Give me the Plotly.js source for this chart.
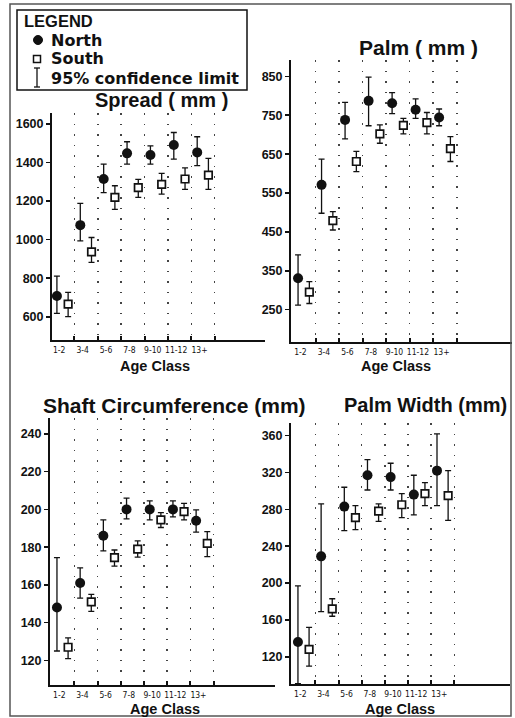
<!DOCTYPE html>
<html>
<head>
<meta charset="utf-8">
<script src="https://cdn.plot.ly/plotly-3.0.1.min.js"></script>
<style>
html,body{margin:0;padding:0;background:#fff;}
#chart{width:515px;height:718px;}
</style>
</head>
<body>
<div id="chart"></div>
<script>
// ---------- data ----------
const categories = ['1-2','3-4','5-6','7-8','9-10','11-12','13+'];

const spreadNorth   = [708, 1075, 1314, 1447, 1438, 1490, 1452];
const spreadNorthHi = [811, 1188, 1391, 1507, 1486, 1555, 1533];
const spreadNorthLo = [618,  994, 1243, 1391, 1391, 1417, 1383];
const spreadSouth   = [666,  937, 1219, 1269, 1286, 1314, 1334];
const spreadSouthHi = [727, 1011, 1279, 1312, 1343, 1372, 1421];
const spreadSouthLo = [601,  882, 1157, 1219, 1236, 1260, 1260];

const palmNorth   = [331, 571, 738, 787, 781, 764, 744];
const palmNorthHi = [391, 637, 783, 848, 808, 792, 766];
const palmNorthLo = [262, 498, 689, 723, 754, 742, 723];
const palmSouth   = [295, 479, 631, 702, 724, 731, 664];
const palmSouthHi = [322, 502, 657, 725, 742, 757, 695];
const palmSouthLo = [266, 455, 605, 678, 702, 702, 631];

const shaftNorth   = [148, 161, 186, 200, 200, 200, 194];
const shaftNorthHi = [174.5, 169, 194.5, 206, 204.5, 204.5, 199.7];
const shaftNorthLo = [125, 153, 178, 195, 194.4, 196, 188];
const shaftSouth   = [127, 151, 174.5, 179, 194.4, 198.8, 182];
const shaftSouthHi = [132, 155, 178.5, 183.3, 198.3, 203.2, 188.2];
const shaftSouthLo = [121, 146, 170, 174.7, 190.4, 194.4, 175];

const pwNorth   = [136, 229, 283, 317, 315, 296, 322];
const pwNorthHi = [197, 286, 304, 334, 330, 317, 362];
const pwNorthLo = [91, 169, 257, 301, 301, 274, 284];
const pwSouth   = [128, 172, 271, 278, 285, 297, 295];
const pwSouthHi = [152, 183, 284, 286, 297, 309, 322];
const pwSouthLo = [110, 164, 258, 267, 271, 284, 268];

const panelTitles = ['Spread ( mm )', 'Palm ( mm )', 'Shaft Circumference (mm)', 'Palm Width (mm)'];
const xTitle = 'Age Class';
const legendItems = ['North', 'South', '95% confidence limit'];

// ---------- helpers ----------
const W = 515, H = 718;
const px = x => x / W;
const py = y => 1 - y / H;
const idx = categories.map((c, i) => i);
const southOffset = 0.48;

function errObj(v, hi, lo) {
  return {
    type: 'data', symmetric: false,
    array: hi.map((h, i) => h - v[i]),
    arrayminus: lo.map((l, i) => v[i] - l),
    color: '#111', thickness: 1.3, width: 3
  };
}
function pair(n, nHi, nLo, s, sHi, sLo, k) {
  const xa = k === 1 ? 'x' : 'x' + k, ya = k === 1 ? 'y' : 'y' + k;
  return [
    {type: 'scatter', mode: 'markers', x: idx, y: n, xaxis: xa, yaxis: ya,
     error_y: errObj(n, nHi, nLo),
     marker: {symbol: 'circle', size: 10, color: '#111'}, showlegend: false, cliponaxis: false},
    {type: 'scatter', mode: 'markers', x: idx.map(i => i + southOffset), y: s, xaxis: xa, yaxis: ya,
     error_y: errObj(s, sHi, sLo),
     marker: {symbol: 'square', size: 7.5, color: '#fff', line: {color: '#111', width: 1.7}}, showlegend: false, cliponaxis: false}
  ];
}

const data = [].concat(
  pair(spreadNorth, spreadNorthHi, spreadNorthLo, spreadSouth, spreadSouthHi, spreadSouthLo, 1),
  pair(palmNorth, palmNorthHi, palmNorthLo, palmSouth, palmSouthHi, palmSouthLo, 2),
  pair(shaftNorth, shaftNorthHi, shaftNorthLo, shaftSouth, shaftSouthHi, shaftSouthLo, 3),
  pair(pwNorth, pwNorthHi, pwNorthLo, pwSouth, pwSouthHi, pwSouthLo, 4)
);

const tickFontX = {family: 'Liberation Sans Narrow, DejaVu Sans Condensed, sans-serif', size: 8.5, color: '#111'};
const tickFontY = {family: 'Liberation Sans, Arial, sans-serif', size: 12.5, color: '#111', weight: 'bold'};

function xAxis(domain, range, anchor) {
  return {
    domain: domain, range: range, anchor: anchor,
    showline: true, linecolor: '#111', linewidth: 2,
    zeroline: false, showgrid: false,
    tickmode: 'array', tickvals: idx.map(i => i + 0.1), ticktext: categories,
    ticks: '', tickangle: 0, tickfont: tickFontX, ticklabelstandoff: 1,
    minor: {tickmode: 'array', tickvals: idx.map(i => i + 0.75),
            ticks: 'inside', ticklen: 4, tickwidth: 2, tickcolor: '#111',
            showgrid: true, gridcolor: '#444', gridwidth: 1.5, griddash: '1.5px,9px'}
  };
}
function yAxis(domain, range, tick0, dtick, anchor) {
  return {
    domain: domain, range: range, anchor: anchor,
    showline: true, linecolor: '#111', linewidth: 2,
    zeroline: false, showgrid: false,
    tickmode: 'linear', tick0: tick0, dtick: dtick,
    ticks: 'outside', ticklen: 4, tickwidth: 1.5, tickcolor: '#111',
    tickfont: tickFontY
  };
}

const titleFont = {family: 'Liberation Sans, Arial, sans-serif', size: 21, color: '#111', weight: 'bold'};
const titleFontSp = {family: 'Liberation Sans, Arial, sans-serif', size: 20, color: '#111', weight: 'bold'};
const titleFontPW = {family: 'Liberation Sans, Arial, sans-serif', size: 20, color: '#111', weight: 'bold'};
const axTitleFont = {family: 'Liberation Sans, Arial, sans-serif', size: 14.5, color: '#111', weight: 'bold'};
const legFont = {family: 'DejaVu Sans, sans-serif', size: 16, color: '#111', weight: 'bold'};

function ann(text, x, y, font, xanchor) {
  return {text: text, x: px(x), y: py(y), xref: 'paper', yref: 'paper',
          xanchor: xanchor || 'center', yanchor: 'middle', showarrow: false, font: font, borderpad: 0};
}

const annotations = [
  ann(panelTitles[0], 161, 100, titleFontSp),
  ann(panelTitles[1], 418, 48, titleFont),
  ann(panelTitles[2], 174, 405, titleFont),
  ann(panelTitles[3], 425, 405, titleFontPW),
  ann(xTitle, 155, 366, axTitleFont),
  ann(xTitle, 396, 366, axTitleFont),
  ann(xTitle, 165, 709, axTitleFont),
  ann(xTitle, 400, 709, axTitleFont),
  ann('LEGEND', 23, 20.5, {family: 'Liberation Sans, Arial, sans-serif', size: 16.5, color: '#111', weight: 'bold'}, 'left'),
  ann(legendItems[0], 50, 40, legFont, 'left'),
  ann(legendItems[1], 50, 59, legFont, 'left'),
  ann(legendItems[2], 50, 78, legFont, 'left')
];

const L = {color: '#111', width: 1.5};
const shapes = [
  // outer frame
  {type: 'rect', xref: 'paper', yref: 'paper', x0: px(10), x1: px(511), y0: py(716), y1: py(4), line: {color: '#555', width: 1.5}},
  // legend box
  {type: 'rect', xref: 'paper', yref: 'paper', x0: px(17), x1: px(247), y0: py(90), y1: py(10), line: {color: '#111', width: 1.5}},
  // legend glyphs
  {type: 'circle', xref: 'paper', yref: 'paper', x0: px(33.5), x1: px(42.5), y0: py(44.5), y1: py(35.5), fillcolor: '#111', line: {color: '#111', width: 1}},
  {type: 'rect', xref: 'paper', yref: 'paper', x0: px(33.5), x1: px(40.5), y0: py(62.5), y1: py(55.5), fillcolor: '#fff', line: L},
  {type: 'line', xref: 'paper', yref: 'paper', x0: px(37), x1: px(37), y0: py(68), y1: py(87), line: {color: '#111', width: 1.3}},
  {type: 'line', xref: 'paper', yref: 'paper', x0: px(34), x1: px(40), y0: py(68), y1: py(68), line: {color: '#111', width: 1.3}},
  {type: 'line', xref: 'paper', yref: 'paper', x0: px(34), x1: px(40), y0: py(87), y1: py(87), line: {color: '#111', width: 1.3}}
];

const layout = {
  width: W, height: H,
  margin: {l: 0, r: 0, t: 0, b: 0},
  paper_bgcolor: '#fff', plot_bgcolor: 'rgba(0,0,0,0)',
  showlegend: false,
  xaxis:  xAxis([px(52), px(265)], [-0.21, 8.9], 'y'),
  yaxis:  yAxis([py(340), py(113)], [480, 1656], 600, 200, 'x'),
  xaxis2: xAxis([px(291), px(512)], [-0.3, 9.1], 'y2'),
  yaxis2: yAxis([py(342), py(60)], [167, 892], 250, 100, 'x2'),
  xaxis3: xAxis([px(50), px(275)], [-0.3, 9.4], 'y3'),
  yaxis3: yAxis([py(685), py(418)], [107, 248.4], 120, 20, 'x3'),
  xaxis4: xAxis([px(291), px(510)], [-0.3, 9.15], 'y4'),
  yaxis4: yAxis([py(684), py(423)], [90.5, 373.7], 120, 40, 'x4'),
  annotations: annotations,
  shapes: shapes
};

Plotly.newPlot('chart', data, layout, {staticPlot: true, displayModeBar: false});
</script>
</body>
</html>
